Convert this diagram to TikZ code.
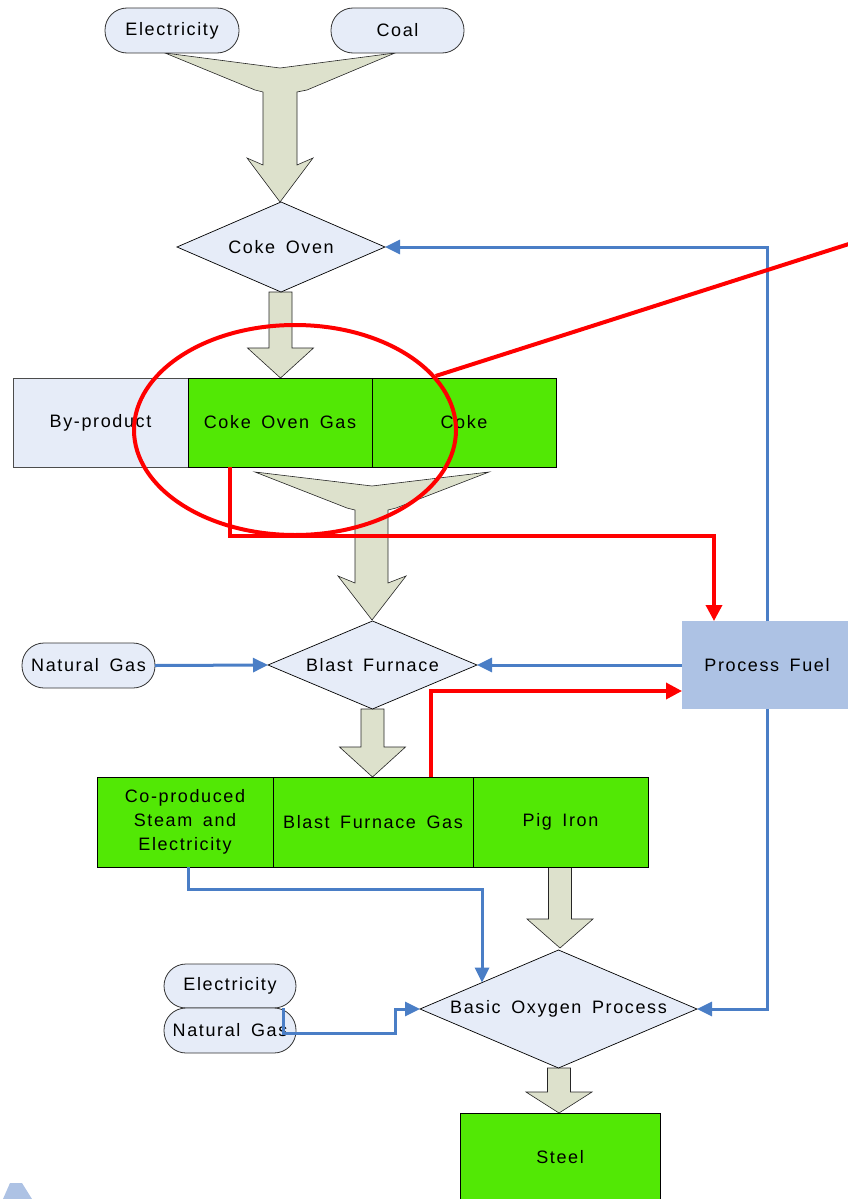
\documentclass[tikz,border=0pt]{standalone}
\usepackage{fontspec}
\setmainfont{Liberation Sans}[LetterSpace=9,WordSpace=1.6]
\usetikzlibrary{shapes.geometric,arrows.meta,calc}
\definecolor{lightfill}{RGB}{230,236,248}
\definecolor{arrowfill}{RGB}{221,225,204}
\definecolor{boxgreen}{RGB}{82,232,5}
\definecolor{pfblue}{RGB}{173,194,228}
\definecolor{lineblue}{RGB}{74,126,198}
\newcommand\blockarrow[4]{\draw[barrow] ({#1-11.5},#2) -- ({#1-11.5},#3) -- ({#1-33},#3) -- (#1,#4) -- ({#1+33},#3) -- ({#1+11.5},#3) -- ({#1+11.5},#2) -- cycle;}
\begin{document}
\begin{tikzpicture}[x=1pt,y=-1pt, font=\fontsize{18}{24}\selectfont,
 term/.style={draw=black!80, fill=lightfill, rounded corners=22pt, minimum height=45pt, inner sep=0pt, outer sep=0pt, line width=0.8pt},
 dia/.style={diamond, draw=black, fill=lightfill, inner sep=0pt, outer sep=0pt, line width=0.7pt},
 gbox/.style={draw=black, fill=boxgreen, inner sep=0pt, outer sep=0pt, line width=0.8pt, align=center},
 pfbox/.style={fill=pfblue, draw=none, inner sep=0pt, outer sep=0pt},
 barrow/.style={draw=black!85, fill=arrowfill, line width=0.6pt, line join=miter},
 bline/.style={draw=lineblue, line width=3pt, -{Triangle[length=15pt,width=14pt]}},
 rline/.style={draw=red, line width=3.5pt, -{Triangle[length=16pt,width=16pt]}},
]
\useasboundingbox (0,0) rectangle (847,1199);

% block arrows
\draw[barrow] (165,53) -- (255,90) -- (263,92) -- (263,165) -- (247,158) -- (280,202) -- (313,158) -- (297,165) -- (297,92) -- (307,90) -- (395,53) -- (280,68) -- cycle;
\draw[barrow] (255,472) -- (347,508) -- (355,510) -- (355,583) -- (338,576) -- (372,620) -- (406,576) -- (388,583) -- (388,510) -- (396,508) -- (489,472) -- (372,486) -- cycle;
\blockarrow{280.5}{292}{348}{378}
\blockarrow{372.5}{709}{747}{777}
\blockarrow{560}{867}{919}{948}
\blockarrow{559}{1068}{1092}{1113}

% nodes
\node[term, minimum width=134pt] (elec) at (172,30.5) {Electricity};
\node[term, minimum width=133pt] (coal) at (397.5,30.5) {Coal};
\node[dia, aspect=2.31, minimum width=208pt, minimum height=90pt] (cokeoven) at (281,247) {Coke Oven};
\node[gbox, fill=lightfill, draw=black!70, minimum width=175pt, minimum height=89pt] (byprod) at (100.5,422.5) {By-product};
\node[gbox, minimum width=184pt, minimum height=89pt] (cog) at (280,422.5) {Coke Oven Gas};
\node[gbox, minimum width=184pt, minimum height=89pt] (coke) at (464,422.5) {Coke};
\node[term, minimum width=133pt] (ng1) at (88.5,665.5) {Natural Gas};
\node[dia, aspect=2.375, minimum width=209pt, minimum height=88pt] (bf) at (372.5,665) {Blast Furnace};
\node[pfbox, minimum width=170pt, minimum height=88pt] (pf) at (767,665) {Process Fuel};
\node[gbox, minimum width=176pt, minimum height=90pt] (coprod) at (185,822) {Co-produced\\Steam and\\Electricity};
\node[gbox, minimum width=200pt, minimum height=90pt] (bfg) at (373,822) {Blast Furnace Gas};
\node[gbox, minimum width=175pt, minimum height=90pt] (pig) at (560.5,822) {Pig Iron};
\node[dia, aspect=2.35, minimum width=277pt, minimum height=118pt] (bop) at (558.5,1009) {Basic Oxygen Process};
\node[term, minimum width=132pt, minimum height=44pt] (elec2) at (230,986) {Electricity};
\node[term, minimum width=132pt] (ng2) at (230,1030.5) {Natural Gas};
\node[gbox, minimum width=200pt, minimum height=88pt] (steel) at (560,1157) {Steel};

% blue connectors
\draw[bline] (pf.north) -- (pf.north |- cokeoven.east) -- (cokeoven.east);
\draw[bline] (ng1.east) -- (bf.west);
\draw[bline] (pf.west) -- (bf.east);
\draw[bline] (pf.south) -- (pf.south |- bop.east) -- (bop.east);
\draw[bline] ([xshift=3pt]coprod.south) -- ++(0,22) -| ($(bop.north)!0.552!(bop.west)$);
\draw[bline] ([xshift=53pt]ng2.north) -- ++(0,25) -| ($(bop.west)+(-25,0)$) -- (bop.west);

% red connectors
\draw[rline] ([xshift=-50pt]cog.south) -- ++(0,69) -| ([xshift=-53pt]pf.north);
\draw[rline] ([xshift=58pt]bfg.north) |- ([yshift=-26pt]pf.west);

% highlight ellipse
\node[ellipse, draw=red, line width=4pt, minimum width=322pt, minimum height=210pt, inner sep=0pt] (hl) at (295,430) {};
\coordinate (hlout) at (852,243);
\draw[red, line width=4pt] (hl.21) -- (hlout);

% fragment at bottom left
\fill[pfblue] (3,1199) -- (10,1183) -- (22,1183) -- (32,1199) -- cycle;
\end{tikzpicture}
\end{document}
